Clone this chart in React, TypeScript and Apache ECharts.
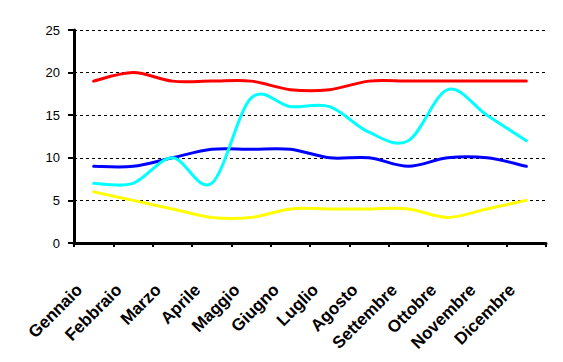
import React, { useEffect, useRef } from "react";
import * as echarts from "echarts";

const months = ["Gennaio", "Febbraio", "Marzo", "Aprile", "Maggio", "Giugno", "Luglio", "Agosto", "Settembre", "Ottobre", "Novembre", "Dicembre"];
const redValues = [19, 20, 19, 19, 19, 18, 18, 19, 19, 19, 19, 19];
const blueValues = [9, 9, 10, 11, 11, 11, 10, 10, 9, 10, 10, 9];
const cyanValues = [7, 7, 10, 7, 17, 16, 16, 13, 12, 18, 15, 12];
const yellowValues = [6, 5, 4, 3, 3, 4, 4, 4, 4, 3, 4, 5];
const yTicks = { min: 0, max: 25, interval: 5 };

// Excel-like smoothed line (Catmull-Rom via cubic Bezier), drawn through the axes' scales
function smoothSeries(name: string, values: number[], color: string) {
  return {
    name,
    type: "custom",
    coordinateSystem: "cartesian2d",
    data: values.map((v, i) => [i, v]),
    encode: { x: 0, y: 1 },
    clip: false,
    renderItem: (params: any, api: any) => {
      if (params.dataIndex !== 0) return null;
      const pts = values.map((v, i) => api.coord([i, v]));
      const n = pts.length;
      let d = `M${pts[0][0]},${pts[0][1]}`;
      for (let i = 0; i < n - 1; i++) {
        const p0 = pts[Math.max(i - 1, 0)];
        const p1 = pts[i];
        const p2 = pts[i + 1];
        const p3 = pts[Math.min(i + 2, n - 1)];
        const c1x = p1[0] + (p2[0] - p0[0]) / 6;
        const c1y = p1[1] + (p2[1] - p0[1]) / 6;
        const c2x = p2[0] - (p3[0] - p1[0]) / 6;
        const c2y = p2[1] - (p3[1] - p1[1]) / 6;
        d += ` C${c1x},${c1y} ${c2x},${c2y} ${p2[0]},${p2[1]}`;
      }
      return {
        type: "path",
        shape: { pathData: d },
        style: { stroke: color, lineWidth: 3, fill: "none", lineJoin: "round", lineCap: "round" },
      };
    },
  };
}

export default function App() {
  const ref = useRef<HTMLDivElement>(null);
  useEffect(() => {
    const chart = echarts.init(ref.current!, null, { renderer: "svg" });
    chart.setOption({
      animation: false,
      backgroundColor: "#ffffff",
      grid: { left: 74, right: 17, top: 30, bottom: 119 },
      xAxis: {
        type: "category",
        data: months,
        boundaryGap: true,
        axisLine: { lineStyle: { color: "#000", width: 3 } },
        axisTick: { show: true, length: 4, lineStyle: { color: "#000", width: 2 } },
        axisLabel: {
          rotate: 45,
          interval: 0,
          margin: 30,
          padding: [0, 20, 0, 0],
          color: "#000",
          fontFamily: "Liberation Sans, Arial, sans-serif",
          fontWeight: "bold",
          fontSize: 17,
        },
        splitLine: { show: false },
      },
      yAxis: {
        type: "value",
        min: yTicks.min,
        max: yTicks.max,
        interval: yTicks.interval,
        axisLine: { show: true, lineStyle: { color: "#000", width: 3 } },
        axisTick: { show: true, length: 6, lineStyle: { color: "#000", width: 2 } },
        axisLabel: {
          margin: 14,
          color: "#000",
          fontFamily: "Liberation Sans, Arial, sans-serif",
          fontSize: 13,
        },
        splitLine: { show: true, lineStyle: { color: "#000", width: 1, type: [3, 3] } },
      },
      series: [
        smoothSeries("Serie1", redValues, "#ff0000"),
        smoothSeries("Serie2", yellowValues, "#ffff00"),
        smoothSeries("Serie3", blueValues, "#0000ff"),
        smoothSeries("Serie4", cyanValues, "#00ffff"),
      ],
    });
    return () => chart.dispose();
  }, []);
  return <div ref={ref} style={{ width: 563, height: 362, position: "absolute", left: 0, top: 0 }} />;
}
